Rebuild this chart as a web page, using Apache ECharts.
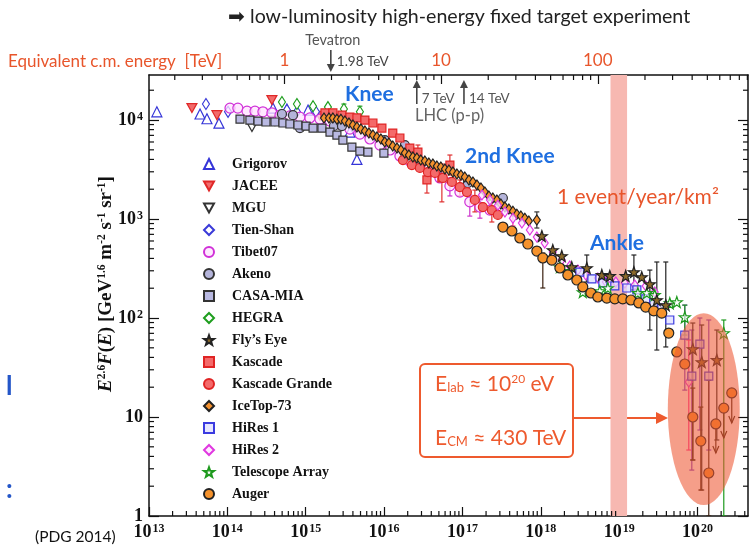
<!DOCTYPE html>
<html>
<head>
<meta charset="utf-8">
<script src="https://cdn.jsdelivr.net/npm/echarts@6/dist/echarts.min.js"></script>
<style>
  html, body { margin: 0; padding: 0; background: #fff; }
  #c { width: 753px; height: 548px; }
</style>
</head>
<body>
<div id="c"></div>
<script>
// ---- Cosmic-ray all-particle spectrum, E^2.6 F(E) vs E [eV] ----

const grigorov = [[1.26e13,1.21e4],[4.48e13,1.15e4],[5.49e13,1.03e4],[7.81e13,9.3e3],[3.82e14,1.32e4],[5.75e14,1.29e4],[1.07e15,1.26e4],[3.66e15,7.56e3],[4.50e15,4.0e3]];
const jacee = [[3.53e13,1.32e4],[7.36e13,1.12e4],[3.70e14,1.59e4],[1.52e15,1.10e4]];
const mgu = [[2.06e14,8.5e3],[4.05e14,9.8e3]];
const tienShan = [[5.33e13,1.45e4],[1.02e14,1.21e4],[5.75e14,1.26e4],[7.72e14,1.21e4],[1.35e15,1.21e4]];
const tibet07 = [[1.08e14,1.32e4],[1.36e14,1.32e4],[1.78e14,1.23e4],[2.25e14,1.23e4],[2.84e14,1.21e4],[3.70e14,1.18e4],[4.69e14,1.12e4],[6.28e14,1.10e4],[8.44e14,1.07e4],[1.13e15,1.05e4],[1.52e15,1.02e4],[2.04e15,9.77e3],[2.73e15,9.12e3],[3.66e15,8.11e3],[4.91e15,7.22e3],[6.59e15,6.43e3],[8.84e15,5.59e3],[1.19e16,4.98e3],[1.59e16,4.33e3],[2.13e16,3.85e3],[2.86e16,3.43e3],[3.84e16,2.98e3],[5.15e16,2.60e3],[6.91e16,2.16e3],[9.27e16,1.87e3],[1.24e17,1.49e3],[1.67e17,1.32e3],[2.24e17,1.23e3]];
const akeno = [[4.97e14,1.15e4],[6.87e14,1.12e4],[8.44e14,8.3e3],[2.29e15,8.7e3],[2.90e15,8.69e3],[1.02e16,6.28e3],[1.84e16,5.59e3],[1.17e17,2.31e3],[3.28e17,1.63e3]];
const casaMia = [[1.45e14,1.02e4],[1.94e14,1.0e4],[2.46e14,9.77e3],[3.11e14,9.55e3],[4.05e14,9.55e3],[5.12e14,9.33e3],[6.28e14,9.12e3],[7.96e14,8.91e3],[1.01e15,8.69e3],[1.24e15,8.3e3],[1.61e15,8.3e3],[2.04e15,7.56e3],[2.50e15,7.05e3],[2.98e15,6.28e3],[3.88e15,5.33e3],[4.91e15,4.86e3],[6.21e15,4.75e3],[9.94e15,4.64e3]];
const hegra = [[4.97e14,1.52e4],[7.72e14,1.45e4],[1.24e15,1.38e4],[1.92e15,1.35e4],[3.07e15,1.29e4],[4.91e15,1.21e4]];
const flysEye = [[1.03e18,673],[1.42e18,486],[1.85e18,423],[2.48e18,327],[3.86e18,320],[6.00e18,272],[7.59e18,266],[1.21e19,266],[1.54e19,291],[1.94e19,259],[2.46e19,220],[3.02e19,152],[3.93e19,135],[8.69e19,48.6],[1.13e20,35.9],[1.76e20,37.7]];
const kascade = [[1.76e15,1.18e4],[2.22e15,1.18e4],[2.90e15,1.12e4],[3.66e15,1.07e4],[4.50e15,1.05e4],[5.69e15,1.0e4],[7.20e15,9.33e3],[9.37e15,8.3e3],[1.29e16,7.39e3],[1.59e16,6.58e3],[2.13e16,5.21e3],[2.70e16,4.75e3],[3.52e16,2.48e3],[5.46e16,2.60e3],[6.91e16,3.51e3]];
const kascadeGrande = [[1.74e16,3.94e3],[2.26e16,3.51e3],[2.86e16,3.28e3],[3.62e16,2.98e3],[4.45e16,2.92e3],[5.62e16,2.60e3],[7.33e16,2.37e3],[9.27e16,2.10e3],[1.14e17,1.87e3],[1.44e17,1.56e3],[1.82e17,1.32e3],[2.37e17,1.23e3],[2.83e17,1.10e3]];
const iceTop73 = [[1.71e15,1.05e4],[1.98e15,1.05e4],[2.22e15,1.05e4],[2.50e15,1.02e4],[2.81e15,1.02e4],[3.16e15,9.77e3],[3.56e15,9.33e3],[4.00e15,8.91e3],[4.50e15,8.51e3],[5.06e15,8.11e3],[5.69e15,7.74e3],[6.40e15,7.39e3],[7.20e15,7.05e3],[8.09e15,6.73e3],[9.10e15,6.43e3],[1.02e16,6.00e3],[1.15e16,5.86e3],[1.29e16,5.46e3],[1.46e16,5.21e3],[1.64e16,4.98e3],[1.84e16,4.64e3],[2.07e16,4.43e3],[2.33e16,4.23e3],[2.62e16,4.13e3],[2.94e16,3.94e3],[3.31e16,3.85e3],[3.72e16,3.68e3],[4.19e16,3.59e3],[4.71e16,3.43e3],[5.30e16,3.35e3],[5.97e16,3.20e3],[6.71e16,3.13e3],[7.55e16,2.98e3],[8.49e16,2.85e3],[9.55e16,2.78e3],[1.07e17,2.66e3],[1.21e17,2.48e3],[1.36e17,2.37e3],[1.53e17,2.21e3],[1.72e17,2.06e3],[1.93e17,1.87e3],[2.17e17,1.71e3],[2.44e17,1.63e3],[2.75e17,1.56e3],[3.09e17,1.42e3],[3.48e17,1.32e3],[3.91e17,1.26e3],[4.40e17,1.20e3],[4.94e17,1.12e3],[5.56e17,1.07e3],[6.25e17,1.02e3],[7.03e17,955],[8.89e17,977]];
const hires1 = [[3.14e18,291],[4.48e18,248],[6.18e18,226],[8.79e18,211],[1.25e19,201],[1.68e19,192],[2.18e19,156],[2.76e19,142],[3.49e19,126],[4.42e19,95.5],[6.87e19,67.3],[8.44e19,25.9],[1.07e20,54.6],[1.39e20,25.9]];
const hires2 = [[1.77e17,1.75e3],[2.24e17,1.56e3],[2.83e17,1.38e3],[3.48e17,1.18e3],[4.40e17,1.02e3],[5.73e17,912],[7.24e17,774],[8.89e17,658],[1.12e18,572],[1.42e18,464],[1.85e18,385],[2.34e18,335],[2.97e18,305],[3.75e18,272],[5.34e18,254],[6.75e18,231],[9.06e18,231],[1.18e19,226],[1.58e19,215],[2.18e19,211],[2.84e19,183],[7.72e19,22.6]];
const telescopeArray = [[1.75e18,327],[2.34e18,299],[3.43e18,183],[5.66e18,187],[7.16e18,201],[1.73e19,179],[2.25e19,179],[2.84e19,171],[4.42e19,141],[5.43e19,145],[6.87e19,102],[2.16e20,70.5]];
const auger = [[3.28e17,830],[4.27e17,757],[5.40e17,643],[6.83e17,559],[8.89e17,475],[1.06e18,404],[1.38e18,385],[1.75e18,320],[2.21e18,272],[2.88e18,242],[3.43e18,206],[4.35e18,179],[5.34e18,163],[6.95e18,159],[8.79e18,156],[1.11e19,156],[1.41e19,152],[1.78e19,142],[2.18e19,129],[2.76e19,118],[3.49e19,112],[4.29e19,70.5],[5.43e19,45.4],[6.87e19,34.3],[8.69e19,10.0],[1.10e20,5.72],[1.39e20,2.72],[1.71e20,8.51],[2.16e20,12.3],[2.73e20,17.5]];

// error bars: [E, low, high]
const kascadeErr = [[2.70e16,3.94e3,5.59e3],[3.52e16,1.83e3,2.92e3],[5.46e16,1.49e3,3.59e3],[6.91e16,2.78e3,4.43e3]];
const kascadeGrandeErr = [[9.27e16,1.71e3,2.48e3],[1.44e17,1.18e3,1.96e3],[2.37e17,933,1.56e3]];
const tibet07Err = [[6.91e16,1.71e3,2.60e3],[1.24e17,1.07e3,1.75e3],[1.67e17,1.02e3,1.59e3]];
const hegraErr = [[3.07e15,1.15e4,1.45e4],[4.91e15,1.10e4,1.38e4]];
const iceTop73Err = [[8.89e17,811,1.18e3]];
const hires2Err = [[2.83e17,1.15e3,1.63e3],[4.40e17,850,1.23e3],[7.72e19,4.64,60]];
const hires1Err = [[6.87e19,18.7,135],[1.07e20,7.39,100],[8.44e19,2.91,75.6],[1.39e20,4.64,95.5]];
const telescopeArrayErr = [[6.87e19,67.3,135],[2.16e20,1,95.5]];
const flysEyeErr = [[3.86e18,231,433],[1.54e19,192,433],[2.46e19,75.6,305],[3.02e19,47.5,368],[3.93e19,51,368],[8.69e19,3.68,89],[1.13e20,1.83,85],[1.76e20,5.86,75.6]];
const augerErr = [[1.06e18,201,454],[8.69e19,3.68,19.6],[1.10e20,1.83,12.6],[1.39e20,1.0,23.6]];
// upper limits: [E, value, arrow tip]
const augerLimits = [[1.71e20,8.51,4.33],[2.16e20,12.3,6.14],[2.73e20,17.5,8.7]];

// highlighted regions
const gzkBand = [[7.74e18, 1.26e19]];                    // 1 event / year / km^2
const ultraHighRegion = [[4.17e19, 1.29, 3.45e20, 112]]; // E_min, F_min, E_max, F_max

// axis ranges and ticks
const eMin = 1e13, eMax = 4.4e20;
const fMin = 1, fMax = 2.85e4;
const cmOf = e => Math.sqrt(1.876e-15 * e);             // equivalent c.m. energy [TeV], proton at rest
const cmMin = cmOf(eMin), cmMax = cmOf(eMax);
const eDecades = [1e13,1e14,1e15,1e16,1e17,1e18,1e19,1e20];
const fDecades = [1,10,100,1000,10000];
const cmDecades = [1,10,100];
const cmMarks = { tevatron: 1.98, lhc7: 7, lhc14: 14 };

const legendNames = ['Grigorov','JACEE','MGU','Tien-Shan','Tibet07','Akeno','CASA-MIA','HEGRA','Fly\u2019s Eye','Kascade','Kascade Grande','IceTop-73','HiRes 1','HiRes 2','Telescope Array','Auger'];

function minorTicks(lo, hi) {
  const out = [];
  for (let d = Math.floor(Math.log10(lo)); d <= Math.ceil(Math.log10(hi)); d++) {
    for (let m = 2; m <= 9; m++) {
      const v = m * Math.pow(10, d);
      if (v >= lo && v <= hi) out.push(v);
    }
  }
  return out;
}

const SYM = {
  triUp: 'triangle',
  triDown: 'path://M0,0L10,0L5,9Z',
  diamond: 'diamond',
  circle: 'circle',
  square: 'rect',
  star: 'path://M5,0L6.18,3.38L9.76,3.45L6.9,5.62L7.94,9.05L5,7L2.06,9.05L3.1,5.62L0.24,3.45L3.82,3.38Z'
};

// drawing order: bottom to top
const experiments = [
  { name: 'Grigorov', data: grigorov, symbol: SYM.triUp, size: 10, fill: 'rgba(255,255,255,0.6)', stroke: '#3535d8' },
  { name: 'JACEE', data: jacee, symbol: SYM.triDown, size: [10, 9], fill: '#f26b6b', stroke: '#e02828' },
  { name: 'MGU', data: mgu, symbol: SYM.triDown, size: [10, 9], fill: '#ffffff', stroke: '#333333' },
  { name: 'Tien-Shan', data: tienShan, symbol: SYM.diamond, size: [7, 11], fill: '#ffffff', stroke: '#3a3ad8' },
  { name: 'HEGRA', data: hegra, symbol: SYM.diamond, size: [7, 11], fill: '#ffffff', stroke: '#1e9e1e' },
  { name: 'Tibet07', data: tibet07, symbol: SYM.circle, size: 10, fill: 'rgba(255,225,255,0.75)', stroke: '#d030d8' },
  { name: 'Akeno', data: akeno, symbol: SYM.circle, size: 9, fill: '#b4b4da', stroke: '#333333' },
  { name: 'CASA-MIA', data: casaMia, symbol: SYM.square, size: 8, fill: '#b9b9e2', stroke: '#333333' },
  { name: 'Kascade', data: kascade, symbol: SYM.square, size: 8, fill: '#f46a6a', stroke: '#e02424' },
  { name: 'Kascade Grande', data: kascadeGrande, symbol: SYM.circle, size: 9, fill: '#f46a6a', stroke: '#e02424' },
  { name: 'IceTop-73', data: iceTop73, symbol: SYM.diamond, size: [7, 10], fill: '#f5922f', stroke: '#222222' },
  { name: 'HiRes 2', data: hires2, symbol: SYM.diamond, size: [7, 10], fill: 'rgba(255,230,255,0.8)', stroke: '#e038e0' },
  { name: 'HiRes 1', data: hires1, symbol: SYM.square, size: 8, fill: 'rgba(220,220,255,0.7)', stroke: '#3b3be0' },
  { name: 'Telescope Array', data: telescopeArray, symbol: SYM.star, size: 11, fill: 'rgba(255,255,255,0.6)', stroke: '#1e9a1e' },
  { name: 'Fly\u2019s Eye', data: flysEye, symbol: SYM.star, size: 11, fill: '#8c6a2a', stroke: '#222222' },
  { name: 'Auger', data: auger, symbol: SYM.circle, size: 10, fill: '#f5922c', stroke: '#222222' }
];

const errorSets = [
  { data: kascadeErr, color: '#e03030' },
  { data: kascadeGrandeErr, color: '#e03030' },
  { data: tibet07Err, color: '#cc33cc' },
  { data: hegraErr, color: '#1e9e1e' },
  { data: iceTop73Err, color: '#333333' },
  { data: hires2Err, color: '#ff3399' },
  { data: hires1Err, color: '#7a3cc8' },
  { data: telescopeArrayErr, color: '#1e9a1e' },
  { data: flysEyeErr, color: '#222222' },
  { data: augerErr, color: '#3a2010' }
];

function errorBarSeries(set) {
  return {
    type: 'custom', silent: true, z: 2, clip: true,
    data: set.data,
    encode: { x: 0, y: [1, 2] },
    renderItem: function (params, api) {
      const x = api.value(0), lo = api.value(1), hi = api.value(2);
      const top = api.coord([x, hi]), bot = api.coord([x, lo]);
      const cap = 2.5;
      const st = { stroke: set.color, lineWidth: 1.2 };
      return { type: 'group', children: [
        { type: 'line', shape: { x1: top[0], y1: top[1], x2: bot[0], y2: bot[1] }, style: st },
        { type: 'line', shape: { x1: top[0] - cap, y1: top[1], x2: top[0] + cap, y2: top[1] }, style: st },
        { type: 'line', shape: { x1: bot[0] - cap, y1: bot[1], x2: bot[0] + cap, y2: bot[1] }, style: st }
      ]};
    }
  };
}

function upperLimitSeries(data, color) {
  return {
    type: 'custom', silent: true, z: 2, clip: true,
    data: data,
    encode: { x: 0, y: [1, 2] },
    renderItem: function (params, api) {
      const x = api.value(0), v = api.value(1), tip = api.value(2);
      const a = api.coord([x, v]), b = api.coord([x, tip]);
      const st = { stroke: color, lineWidth: 1.2, fill: null };
      return { type: 'group', children: [
        { type: 'line', shape: { x1: a[0], y1: a[1], x2: b[0], y2: b[1] }, style: st },
        { type: 'polyline', shape: { points: [[b[0] - 3, b[1] - 7], [b[0], b[1]], [b[0] + 3, b[1] - 7]] }, style: st }
      ]};
    }
  };
}

const bandSeries = {
  type: 'custom', silent: true, z: 1, clip: true,
  data: gzkBand,
  encode: { x: [0, 1] },
  renderItem: function (params, api) {
    const p1 = api.coord([api.value(0), fMax]);
    const p2 = api.coord([api.value(1), fMin]);
    return { type: 'rect', shape: { x: p1[0], y: p1[1], width: p2[0] - p1[0], height: p2[1] - p1[1] },
             style: { fill: '#f7b8b1' } };
  }
};

const ellipseSeries = {
  type: 'custom', silent: true, z: 5, clip: true,
  data: ultraHighRegion,
  encode: { x: [0, 2], y: [1, 3] },
  renderItem: function (params, api) {
    const p1 = api.coord([api.value(0), api.value(3)]);
    const p2 = api.coord([api.value(2), api.value(1)]);
    const cx = (p1[0] + p2[0]) / 2, cy = (p1[1] + p2[1]) / 2;
    const rx = (p2[0] - p1[0]) / 2, ry = (p2[1] - p1[1]) / 2;
    return { type: 'circle', x: cx, y: cy, scaleY: ry / rx,
             shape: { cx: 0, cy: 0, r: rx },
             style: { fill: 'rgba(238,88,52,0.58)' } };
  }
};

const serifBold = { fontFamily: 'Liberation Serif', fontWeight: 'bold', color: '#111' };
const tickRich = {
  b: Object.assign({ fontSize: 18 }, serifBold),
  s: Object.assign({ fontSize: 12, verticalAlign: 'top', padding: [0, 0, 0, 1] }, serifBold)
};
function powLabel(v) {
  const n = Math.round(Math.log10(v));
  if (n === 0) return '{b|1}';
  if (n === 1) return '{b|10}';
  return '{b|10}{s|' + n + '}';
}

const frameLine = { show: true, lineStyle: { color: '#111', width: 1.5 } };
const tickLine = { color: '#111', width: 1.2 };
function logAxis(extra) {
  return Object.assign({
    type: 'log', logBase: 10,
    splitLine: { show: false }, minorTick: { show: false }, minorSplitLine: { show: false }
  }, extra);
}

const option = {
  animation: false,
  backgroundColor: '#ffffff',
  grid: { left: 149, top: 75, width: 599, height: 441, containLabel: false },
  xAxis: [
    logAxis({ position: 'bottom', min: eMin, max: eMax, axisLine: frameLine,
      axisTick: { show: true, inside: true, length: 9, customValues: eDecades, lineStyle: tickLine },
      axisLabel: { show: true, customValues: eDecades, formatter: powLabel, margin: 7, rich: tickRich } }),
    logAxis({ position: 'top', min: cmMin, max: cmMax, axisLine: frameLine,
      axisTick: { show: true, inside: true, length: 9, customValues: cmDecades, lineStyle: tickLine },
      axisLabel: { show: true, customValues: cmDecades, formatter: v => String(Math.round(v)),
        color: '#e8552b', fontFamily: 'Lato', fontSize: 17, margin: 6 } })
  ],
  yAxis: [
    logAxis({ position: 'left', min: fMin, max: fMax, axisLine: frameLine,
      axisTick: { show: true, inside: true, length: 10, customValues: fDecades, lineStyle: tickLine },
      axisLabel: { show: true, customValues: fDecades, formatter: powLabel, margin: 6, rich: tickRich } }),
    logAxis({ position: 'right', min: fMin, max: fMax, axisLine: frameLine,
      axisTick: { show: true, inside: true, length: 10, customValues: fDecades, lineStyle: tickLine },
      axisLabel: { show: false } })
  ],
  legend: {
    orient: 'vertical', left: 198, top: 152,
    itemWidth: 10, itemHeight: 10, itemGap: 8,
    selectedMode: false,
    data: legendNames,
    textStyle: { fontFamily: 'Liberation Serif', fontWeight: 'bold', fontSize: 14, color: '#111',
                 lineHeight: 14, padding: [0, 0, 0, 13] }
  },
  series: [bandSeries]
    .concat(errorSets.map(errorBarSeries))
    .concat([upperLimitSeries(augerLimits, '#3a2010')])
    .concat(experiments.map(ex => ({
      type: 'scatter', name: ex.name, data: ex.data, z: 3,
      xAxisIndex: 0, yAxisIndex: 0,
      symbol: ex.symbol, symbolSize: ex.size,
      itemStyle: { color: ex.fill, borderColor: ex.stroke, borderWidth: 1.2, opacity: 1 },
      emphasis: { disabled: true }
    })))
    .concat([ellipseSeries])
};

const chart = echarts.init(document.getElementById('c'));
chart.setOption(option);

// pixel positions taken from the chart's own axes
const px = v => chart.convertToPixel({ xAxisIndex: 0 }, v);
const py = v => chart.convertToPixel({ yAxisIndex: 0 }, v);
const xCm = v => chart.convertToPixel({ xAxisIndex: 1 }, v);
const xTev = xCm(cmMarks.tevatron), x7 = xCm(cmMarks.lhc7), x14 = xCm(cmMarks.lhc14);
const frameL = px(eMin), frameR = px(eMax), frameB = py(fMin), frameT = py(fMax);

// minor log ticks on all four sides, pointing inward
const minorLen = 5;
function tickEl(x1, y1, x2, y2) {
  return { type: 'line', z: 9, silent: true, shape: { x1: x1, y1: y1, x2: x2, y2: y2 },
           style: { stroke: '#111', lineWidth: 1.2 } };
}
const minorTickEls = [];
minorTicks(eMin, eMax).forEach(v => { const x = px(v); minorTickEls.push(tickEl(x, frameB, x, frameB - minorLen)); });
minorTicks(cmMin, cmMax).forEach(v => { const x = xCm(v); minorTickEls.push(tickEl(x, frameT, x, frameT + minorLen)); });
minorTicks(fMin, fMax).forEach(v => {
  const y = py(v);
  minorTickEls.push(tickEl(frameL, y, frameL + minorLen, y));
  minorTickEls.push(tickEl(frameR, y, frameR - minorLen, y));
});

const sans = (size, weight) => (weight ? weight + ' ' : '') + size + 'px Lato, "Open Sans", sans-serif';
function label(text, x, y, font, fill, align) {
  return { type: 'text', x: x, y: y, z: 10, silent: true,
    style: { text: text, font: font, fill: fill, textAlign: align || 'left', textVerticalAlign: 'middle',
             align: align || 'left', verticalAlign: 'middle' } };
}
function arrow(x, y1, y2, color) {
  const dir = y2 > y1 ? 1 : -1;
  return { type: 'group', z: 10, silent: true, children: [
    { type: 'line', shape: { x1: x, y1: y1, x2: x, y2: y2 - dir * 3 }, style: { stroke: color, lineWidth: 1.6 } },
    { type: 'polygon', shape: { points: [[x - 4, y2 - dir * 8], [x, y2], [x + 4, y2 - dir * 8]] }, style: { fill: color } }
  ]};
}

const accent = '#ee5a2e';
const blue = '#1f6fe0';
const boxRich = {
  a: { fontFamily: 'Lato', fontSize: 21, fill: accent, color: accent },
  sub: { fontFamily: 'Lato', fontSize: 13, fill: accent, color: accent, verticalAlign: 'bottom' },
  sup: { fontFamily: 'Lato', fontSize: 12, fill: accent, color: accent, verticalAlign: 'top' }
};
const axisTitleRich = {
  i: { fontFamily: 'Liberation Serif', fontStyle: 'italic', fontWeight: 'bold', fontSize: 19, fill: '#111' },
  r: { fontFamily: 'Liberation Serif', fontWeight: 'bold', fontSize: 19, fill: '#111' },
  s: { fontFamily: 'Liberation Serif', fontWeight: 'bold', fontSize: 11.5, fill: '#111', verticalAlign: 'top' }
};

chart.setOption({
  graphic: minorTickEls.concat([
    label('\u27A1 low-luminosity high-energy fixed target experiment', 228, 17, sans(19.6), '#222'),
    label('Tevatron', xTev + 2, 40, sans(14.5), '#555', 'center'),
    arrow(xTev, 50, 72, '#444'),
    label('1.98 TeV', xTev + 6, 62, sans(13.5), '#444'),
    label('Equivalent c.m. energy  [TeV]', 8, 62, sans(17), '#e8552b'),
    label('Knee', 345, 94, sans(21, 'bold'), blue),
    arrow(x7, 104, 80, '#444'),
    label('7 TeV', x7 + 5, 99, sans(13.5), '#555'),
    arrow(x14, 104, 80, '#444'),
    label('14 TeV', x14 + 5, 99, sans(13.5), '#555'),
    label('LHC (p-p)', 415, 116, sans(16.5), '#666'),
    label('2nd Knee', 465, 156, sans(21, 'bold'), blue),
    label('1 event/year/km\u00B2', 557, 197, sans(21), '#e8552b'),
    label('Ankle', 590, 243, sans(21, 'bold'), blue),
    { type: 'rect', z: 10, silent: true, shape: { x: 420, y: 364, width: 153, height: 93, r: 5 },
      style: { fill: '#fff', stroke: accent, lineWidth: 2 } },
    { type: 'text', z: 11, silent: true, x: 435, y: 384,
      style: { text: '{a|E}{sub|lab}{a| \u2248 10}{sup|20}{a| eV}', rich: boxRich, textVerticalAlign: 'middle', verticalAlign: 'middle' } },
    { type: 'text', z: 11, silent: true, x: 435, y: 438,
      style: { text: '{a|E}{sub|CM}{a| \u2248 430 TeV}', rich: boxRich, textVerticalAlign: 'middle', verticalAlign: 'middle' } },
    { type: 'group', z: 10, silent: true, children: [
      { type: 'line', shape: { x1: 573, y1: 418, x2: 660, y2: 418 }, style: { stroke: accent, lineWidth: 2 } },
      { type: 'polygon', shape: { points: [[656, 412], [668, 418], [656, 424]] }, style: { fill: accent } }
    ]},
    { type: 'text', z: 10, silent: true, x: 106, y: 284, rotation: Math.PI / 2,
      style: { text: '{i|E}{s|2.6}{i|F}{r|(}{i|E}{r|) [GeV}{s|1.6}{r| m}{s|-2}{r| s}{s|-1}{r| sr}{s|-1}{r|]}',
               rich: axisTitleRich, textAlign: 'center', align: 'center', textVerticalAlign: 'middle', verticalAlign: 'middle' } },
    label('(PDG 2014)', 35, 537, sans(15.5), '#111'),
    label('l', 6, 387, sans(26, 'bold'), '#2456c8'),
    label(':', 6, 490, sans(26, 'bold'), '#2456c8')
  ])
});
</script>
</body>
</html>
